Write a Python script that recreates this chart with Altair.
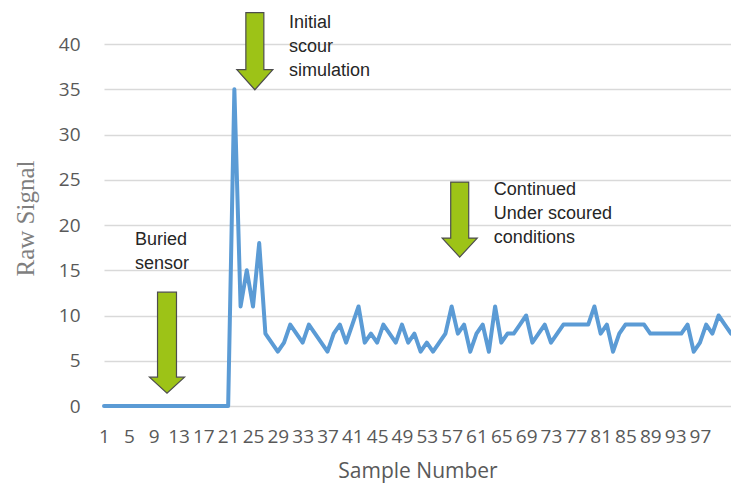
import altair as alt
import pandas as pd

# ---- data ----
sample_number = list(range(1, 103))
raw_signal = [
    0, 0, 0, 0, 0, 0, 0, 0, 0, 0,        # 1-10
    0, 0, 0, 0, 0, 0, 0, 0, 0, 0,        # 11-20
    0, 35, 11, 15, 11, 18, 8, 7, 6, 7,   # 21-30
    9, 8, 7, 9, 8, 7, 6, 8, 9, 7,        # 31-40
    9, 11, 7, 8, 7, 9, 8, 7, 9, 7,       # 41-50
    8, 6, 7, 6, 7, 8, 11, 8, 9, 6,       # 51-60
    8, 9, 6, 11, 7, 8, 8, 9, 10, 7,      # 61-70
    8, 9, 7, 8, 9, 9, 9, 9, 9, 11,       # 71-80
    8, 9, 6, 8, 9, 9, 9, 9, 8, 8,        # 81-90
    8, 8, 8, 8, 9, 6, 7, 9, 8, 10,       # 91-100
    9, 8,                                # 101-102
]
x_tick_labels = [1, 5, 9, 13, 17, 21, 25, 29, 33, 37, 41, 45, 49,
                 53, 57, 61, 65, 69, 73, 77, 81, 85, 89, 93, 97]
y_tick_labels = [0, 5, 10, 15, 20, 25, 30, 35, 40]

note_texts = ["Buried\nsensor", "Initial\nscour\nsimulation",
              "Continued\nUnder scoured\nconditions"]
note_x = [6.0, 30.8, 63.8]
note_y = [19.3, 43.3, 24.9]

arrow_names = ["buried", "initial", "continued"]
arrow_x = [11.15, 25.3, 58.3]
arrow_y = [7.0, 39.2, 20.6]
arrow_paths = [
    "M-0.158,-0.842L0.158,-0.842L0.158,0.575L0.292,0.575L0,0.842L-0.292,0.575L-0.158,0.575Z",
    "M-0.15,-0.642L0.15,-0.642L0.15,0.308L0.3,0.308L0,0.642L-0.3,0.308L-0.15,0.308Z",
    "M-0.15,-0.625L0.15,-0.625L0.15,0.308L0.292,0.308L0,0.625L-0.292,0.308L-0.15,0.308Z",
]

line_df = pd.DataFrame({"sample": sample_number, "signal": raw_signal})
note_df = pd.DataFrame({"sample": note_x, "signal": note_y, "label": note_texts})
arrow_df = pd.DataFrame({"sample": arrow_x, "signal": arrow_y, "arrow": arrow_names})

xscale = alt.Scale(domain=[1, 102], nice=False, zero=False)
yscale = alt.Scale(domain=[0, 40], nice=False)

x_enc = alt.X("sample:Q", scale=xscale, axis=alt.Axis(
    values=x_tick_labels, title="Sample Number", grid=False, domain=False,
    ticks=False, tickSize=0, labelPadding=21, labelOverlap=False, labelFlush=False,
    labelFont="Open Sans", labelFontSize=19, labelColor="#595959",
    titleFont="Open Sans", titleFontSize=21, titleFontWeight="normal",
    titleColor="#595959", titlePadding=14))
y_enc = alt.Y("signal:Q", scale=yscale, axis=alt.Axis(
    values=y_tick_labels, title="Raw Signal", grid=True, gridColor="#D9D9D9",
    gridWidth=1.5, domain=False, ticks=False, tickSize=0, labelPadding=24,
    labelFont="Open Sans", labelFontSize=19, labelColor="#595959",
    titleFont="Liberation Serif", titleFontSize=25, titleFontWeight="normal",
    titleColor="#7F7F7F", titleX=-79, titleY=174, titleBaseline="middle"))

line = alt.Chart(line_df).mark_line(
    color="#5B9BD5", strokeWidth=4, strokeJoin="round", strokeCap="round"
).encode(x=x_enc, y=y_enc)

arrows = alt.Chart(arrow_df).mark_point(
    fill="#9DC317", fillOpacity=1, stroke="#4D4D4D", strokeWidth=1.2,
    strokeOpacity=1, size=14400, opacity=1
).encode(
    x=x_enc, y=y_enc,
    shape=alt.Shape("arrow:N", scale=alt.Scale(domain=arrow_names, range=arrow_paths),
                    legend=None),
)

notes = alt.Chart(note_df).mark_text(
    align="left", baseline="top", lineBreak="\n", lineHeight=24,
    font="Liberation Sans", fontSize=18, color="#262626"
).encode(x=x_enc, y=y_enc, text="label:N")

chart = alt.layer(line, arrows, notes).properties(
    width=627, height=362,
    autosize=alt.AutoSizeParams(type="none"),
    padding={"left": 96, "top": 36, "right": 0, "bottom": 80},
).configure_view(stroke=None)

chart.save("out.html", embed_options={"renderer": "svg", "actions": False})
